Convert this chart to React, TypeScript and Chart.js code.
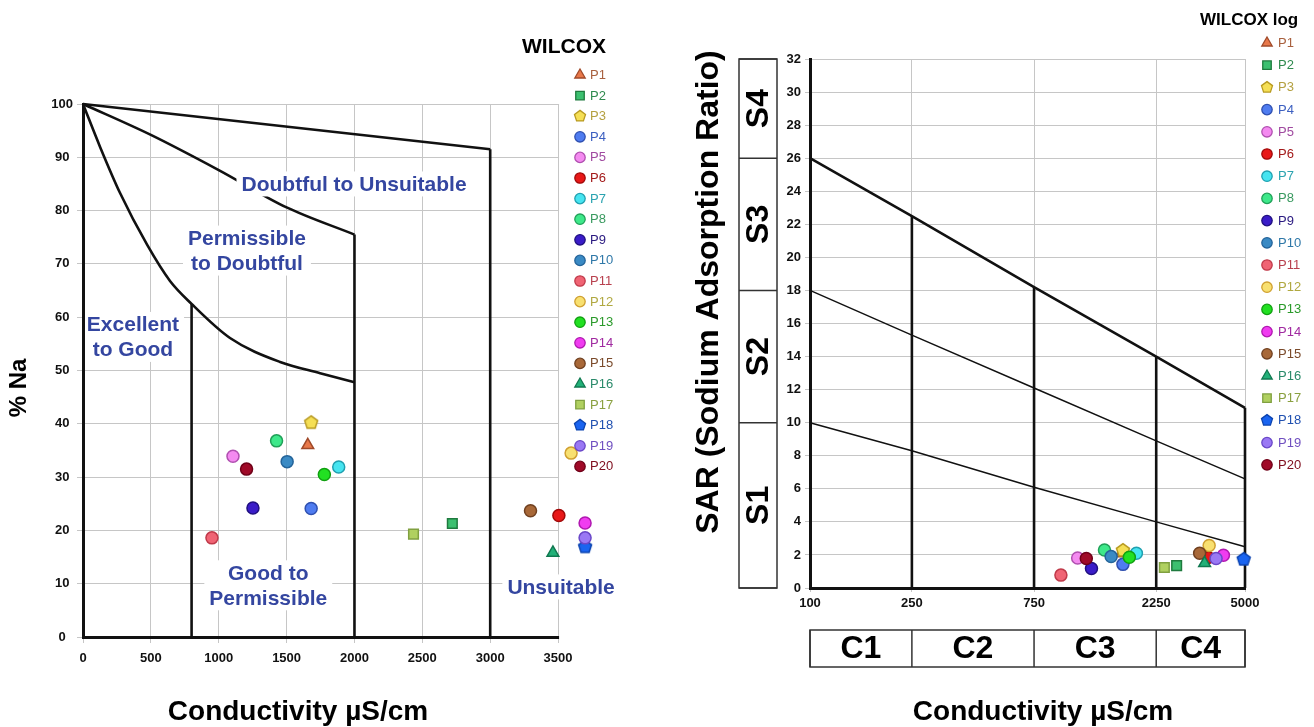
import React, { useEffect, useRef } from 'react';
import { Chart, registerables } from 'chart.js';

Chart.register(...registerables);

const FONT = "'Liberation Sans', Arial, Helvetica, sans-serif";

// ---------- Series (shared) ----------
const seriesNames = ['P1', 'P2', 'P3', 'P4', 'P5', 'P6', 'P7', 'P8', 'P9', 'P10', 'P11', 'P12', 'P13', 'P14', 'P15', 'P16', 'P17', 'P18', 'P19', 'P20'];
const markerStyles = ['triangle', 'rect', 'pentagon', 'circle', 'circle', 'circle', 'circle', 'circle', 'circle', 'circle', 'circle', 'circle', 'circle', 'circle', 'circle', 'triangle', 'rect', 'pentagon', 'circle', 'circle'];
const fillColors = ['#e8784a', '#3cc070', '#f5df55', '#4f7cf0', '#f48af0', '#e81818', '#46e4f0', '#3ee88a', '#3a1cc8', '#3a8ac4', '#f06474', '#f8e070', '#22e022', '#f03cf0', '#a86838', '#22b078', '#b0d060', '#1a64f0', '#9a78f4', '#a00a28'];
const borderColors = ['#a04a2a', '#1e7a3e', '#b89a20', '#2f50b0', '#b050b0', '#a00808', '#20a0b0', '#20a058', '#201080', '#24649a', '#c03a4a', '#d0a030', '#10a010', '#b018b0', '#704020', '#107850', '#80a040', '#0c44b0', '#6a48c8', '#700018'];
const legendTextColors = ['#a8603e', '#2f8a4e', '#b4a040', '#3c5fc0', '#a04aa0', '#a31a1a', '#2aa3b0', '#3a9a60', '#2a1a80', '#2f78a8', '#b8404e', '#b0a840', '#2a9a2a', '#a02aa0', '#7a4a2a', '#2a8a6a', '#8aa040', '#2050b0', '#7050c0', '#801020'];

// ---------- Left: WILCOX (linear) ----------
const condLinear = [1656, 2721, 1681, 1681, 1105, 3506, 1884, 1426, 1252, 1504, 950, 3596, 1778, 3699, 3297, 3462, 2435, 3699, 3699, 1205];
const naPercent = [36.0, 21.3, 40.3, 24.1, 33.9, 22.8, 31.9, 36.8, 24.2, 32.9, 18.6, 34.5, 30.5, 21.4, 23.7, 15.8, 19.3, 17.0, 18.6, 31.5];
const linearXTicks = [0, 500, 1000, 1500, 2000, 2500, 3000, 3500];
const naTicks = [0, 10, 20, 30, 40, 50, 60, 70, 80, 90, 100];

const topLineX = [0, 3000];
const topLineY = [100, 91.5];
const midCurveX = [0, 500, 1000, 1500, 2000];
const midCurveY = [100, 94.2, 87.6, 80.6, 75.5];
const lowCurveX = [0, 125, 273, 472, 641, 800, 1083, 1452, 1747, 2000];
const lowCurveY = [100, 92.0, 83.3, 73.6, 66.8, 62.5, 56.1, 51.6, 49.5, 47.8];
const verticalX = [800, 2000, 3000];
const verticalTop = [62.5, 75.5, 91.5];

const zoneLabelText = [['Doubtful to Unsuitable'], ['Permissible', 'to Doubtful'], ['Excellent', 'to Good'], ['Good to', 'Permissible'], ['Unsuitable']];
const zoneLabelX = [1997, 1208, 368, 1365, 3522];
const zoneLabelY = [85.0, 72.5, 56.3, 9.7, 9.4];

// ---------- Right: WILCOX log ----------
const condLog = [1650, 2704, 1668, 1668, 1110, 3590, 1883, 1413, 1257, 1500, 955, 3622, 1767, 4118, 3325, 3477, 2421, 4943, 3855, 1200];
const sarValues = [2.1, 1.35, 2.3, 1.43, 1.82, 1.84, 2.1, 2.3, 1.18, 1.9, 0.78, 2.57, 1.86, 1.98, 2.1, 1.5, 1.24, 1.76, 1.78, 1.78];

const logTicks = [100, 250, 750, 2250, 5000];
const s1Line = [10, 8.3, 6.1, 4.0, 2.5];
const s2Line = [18, 15.3, 12.1, 8.9, 6.6];
const s3Line = [26, 22.5, 18.2, 14.0, 10.9];
const sClassBounds = [0, 10, 18, 26, 32];
const sClassLabels = ['S1', 'S2', 'S3', 'S4'];
const cClassLabels = ['C1', 'C2', 'C3', 'C4'];

// ---------- helpers ----------
function markerPath(ctx: CanvasRenderingContext2D, style: string, x: number, y: number, r: number) {
  ctx.beginPath();
  if (style === 'circle') {
    ctx.arc(x, y, r, 0, Math.PI * 2);
  } else if (style === 'rect') {
    const s = r * Math.SQRT1_2;
    ctx.rect(x - s, y - s, 2 * s, 2 * s);
  } else {
    const n = style === 'triangle' ? 3 : 5;
    for (let k = 0; k < n; k++) {
      const a = (k * 2 * Math.PI) / n;
      const px = x + Math.sin(a) * r;
      const py = y - Math.cos(a) * r;
      if (k === 0) ctx.moveTo(px, py);
      else ctx.lineTo(px, py);
    }
  }
  ctx.closePath();
}

function drawMarker(ctx: CanvasRenderingContext2D, style: string, x: number, y: number, r: number, fill: string, stroke: string, lw: number) {
  ctx.save();
  markerPath(ctx, style, x, y, r);
  ctx.fillStyle = fill;
  ctx.fill();
  ctx.lineWidth = lw;
  ctx.strokeStyle = stroke;
  ctx.stroke();
  ctx.restore();
}

function pentagonCanvas(fill: string, stroke: string, r: number) {
  const size = Math.ceil(2 * r + 4);
  const c = document.createElement('canvas');
  c.width = size;
  c.height = size;
  const ctx = c.getContext('2d')!;
  drawMarker(ctx, 'pentagon', size / 2, size / 2 + 0.5, r, fill, stroke, 1.5);
  return c;
}

function pointDatasets(xs: number[], ys: number[], radius: number) {
  return seriesNames.map((name, i) => {
    const st = markerStyles[i];
    const r = st === 'circle' ? radius : radius + 0.8;
    return {
      type: 'scatter' as const,
      label: name,
      data: [{ x: xs[i], y: ys[i] }],
      pointStyle: st === 'pentagon' ? pentagonCanvas(fillColors[i], borderColors[i], r) : st,
      pointRadius: r,
      pointHoverRadius: r,
      pointBackgroundColor: fillColors[i],
      pointBorderColor: borderColors[i],
      pointBorderWidth: 1.5,
      showLine: false,
      clip: false as any,
      order: 20 - i,
    };
  });
}

function lineDataset(xs: number[], ys: number[], width: number, curved = false) {
  return {
    type: 'line' as const,
    label: '',
    data: xs.map((x, k) => ({ x, y: ys[k] })),
    borderColor: '#111',
    borderWidth: width,
    pointRadius: 0,
    pointHoverRadius: 0,
    fill: false,
    tension: 0,
    cubicInterpolationMode: curved ? ('monotone' as const) : ('default' as const),
    order: 100,
    clip: 4 as any,
  };
}

function drawLegend(ctx: CanvasRenderingContext2D, mx: number, tx: number, y0: number, dy: number, fontSize: number) {
  ctx.save();
  ctx.font = `${fontSize}px ${FONT}`;
  ctx.textAlign = 'left';
  ctx.textBaseline = 'middle';
  seriesNames.forEach((name, i) => {
    const y = y0 + i * dy;
    const st = markerStyles[i];
    const r = st === 'circle' ? 5.2 : st === 'pentagon' ? 5.8 : 6;
    drawMarker(ctx, st, mx, y, r, fillColors[i], borderColors[i], 1.3);
    ctx.fillStyle = legendTextColors[i];
    ctx.fillText(name, tx, y + 0.5);
  });
  ctx.restore();
}

function rotatedText(ctx: CanvasRenderingContext2D, text: string, x: number, y: number, font: string) {
  ctx.save();
  ctx.translate(x, y);
  ctx.rotate(-Math.PI / 2);
  ctx.font = font;
  ctx.textAlign = 'center';
  ctx.textBaseline = 'middle';
  ctx.fillStyle = '#000';
  ctx.fillText(text, 0, 0);
  ctx.restore();
}

const tickFont = { family: FONT, size: 13, weight: 'bold' as const };
const GRID = '#c6c6c6';

// ---------- Left chart ----------
const leftPlugin = {
  id: 'wilcoxLeftExtras',
  beforeDatasetsDraw(chart: any) {
    // the grid frame ends at the last tick (3500); points may still lie beyond it
    const { ctx, chartArea, scales } = chart;
    const xEnd = scales.x.getPixelForValue(linearXTicks[linearXTicks.length - 1]);
    ctx.save();
    ctx.fillStyle = '#fff';
    ctx.fillRect(xEnd + 1, chartArea.top - 3, chartArea.right - xEnd + 4, chartArea.bottom - chartArea.top + 6);
    ctx.restore();
  },
  afterDatasetsDraw(chart: any) {
    const { ctx, chartArea, scales } = chart;
    const xs = scales.x;
    const ys = scales.y;
    ctx.save();
    ctx.beginPath();
    ctx.rect(chartArea.left + 2, chartArea.top, chartArea.right - chartArea.left + 60, chartArea.bottom - chartArea.top - 2);
    ctx.clip();
    ctx.font = `bold 21px ${FONT}`;
    ctx.textAlign = 'center';
    ctx.textBaseline = 'middle';
    const lineH = 25;
    zoneLabelText.forEach((lines, k) => {
      const cx = xs.getPixelForValue(zoneLabelX[k]);
      const cy = ys.getPixelForValue(zoneLabelY[k]);
      const w = Math.max(...lines.map((l) => ctx.measureText(l).width));
      const h = lines.length * lineH;
      ctx.fillStyle = '#fff';
      ctx.fillRect(cx - w / 2 - 5, cy - h / 2, w + 10, h);
      ctx.fillStyle = '#3446a0';
      lines.forEach((l, j) => {
        ctx.fillText(l, cx, cy + (j - (lines.length - 1) / 2) * lineH + 1);
      });
    });
    ctx.restore();
  },
  afterDraw(chart: any) {
    const { ctx } = chart;
    ctx.save();
    ctx.fillStyle = '#000';
    ctx.font = `bold 21px ${FONT}`;
    ctx.textAlign = 'left';
    ctx.textBaseline = 'alphabetic';
    ctx.fillText('WILCOX', 522, 53);
    ctx.font = `bold 28px ${FONT}`;
    ctx.textAlign = 'center';
    ctx.fillText('Conductivity µS/cm', 298, 720);
    ctx.restore();
    rotatedText(ctx, '% Na', 19, 388, `bold 24px ${FONT}`);
    drawLegend(ctx, 580, 590, 75, 20.6, 13);
  },
};

// ---------- Right chart ----------
const OFF = 650;
const rightPlugin = {
  id: 'wilcoxRightExtras',
  afterDraw(chart: any) {
    const { ctx, scales } = chart;
    const xs = scales.x;
    const ys = scales.y;
    ctx.save();
    // S class boxes
    const bx0 = 739 - OFF;
    const bx1 = 777 - OFF;
    ctx.strokeStyle = '#333';
    ctx.lineWidth = 1.5;
    ctx.strokeRect(bx0, ys.getPixelForValue(32), bx1 - bx0, ys.getPixelForValue(0) - ys.getPixelForValue(32));
    sClassBounds.forEach((b) => {
      const py = ys.getPixelForValue(b);
      ctx.beginPath();
      ctx.moveTo(bx0, py);
      ctx.lineTo(bx1, py);
      ctx.stroke();
    });
    sClassLabels.forEach((lab, k) => {
      const cy = (ys.getPixelForValue(sClassBounds[k]) + ys.getPixelForValue(sClassBounds[k + 1])) / 2;
      rotatedText(ctx, lab, (bx0 + bx1) / 2 + 1, cy, `bold 32px ${FONT}`);
    });
    // C class boxes
    const cy0 = 630;
    const cy1 = 667;
    ctx.strokeStyle = '#333';
    ctx.lineWidth = 1.5;
    const xl = xs.getPixelForValue(logTicks[0]);
    const xr = xs.getPixelForValue(logTicks[logTicks.length - 1]);
    ctx.strokeRect(xl, cy0, xr - xl, cy1 - cy0);
    logTicks.forEach((t) => {
      const px = xs.getPixelForValue(t);
      ctx.beginPath();
      ctx.moveTo(px, cy0);
      ctx.lineTo(px, cy1);
      ctx.stroke();
    });
    ctx.fillStyle = '#000';
    ctx.font = `bold 32px ${FONT}`;
    ctx.textAlign = 'center';
    ctx.textBaseline = 'middle';
    cClassLabels.forEach((lab, k) => {
      const cx = (xs.getPixelForValue(logTicks[k]) + xs.getPixelForValue(logTicks[k + 1])) / 2;
      ctx.fillText(lab, cx, (cy0 + cy1) / 2 + 1);
    });
    // titles
    ctx.textBaseline = 'alphabetic';
    ctx.font = `bold 28px ${FONT}`;
    ctx.fillText('Conductivity µS/cm', 1043 - OFF, 720);
    ctx.font = `bold 17px ${FONT}`;
    ctx.textAlign = 'left';
    ctx.fillText('WILCOX log', 1200 - OFF, 25);
    ctx.restore();
    rotatedText(ctx, 'SAR (Sodium Adsorption Ratio)', 709 - OFF, 292, `bold 32px ${FONT}`);
    drawLegend(ctx, 1267 - OFF, 1278 - OFF, 43, 22.2, 13);
  },
};

export default function App() {
  const leftRef = useRef<HTMLCanvasElement | null>(null);
  const rightRef = useRef<HTMLCanvasElement | null>(null);

  useEffect(() => {
    Chart.defaults.font.family = FONT;

    const leftDatasets: any[] = [
      ...pointDatasets(condLinear, naPercent, 6),
      lineDataset(topLineX, topLineY, 2.6),
      lineDataset(midCurveX, midCurveY, 2.6, true),
      lineDataset(lowCurveX, lowCurveY, 2.6, true),
      ...verticalX.map((vx, k) => lineDataset([vx, vx], [verticalTop[k], 0], 2.6)),
    ];

    const left = new Chart(leftRef.current!, {
      type: 'scatter',
      data: { datasets: leftDatasets },
      options: {
        responsive: false,
        maintainAspectRatio: false,
        animation: false,
        devicePixelRatio: 1,
        events: [],
        layout: { padding: { left: 43, right: 58, top: 104, bottom: 50 } },
        plugins: { legend: { display: false }, tooltip: { enabled: false }, title: { display: false } },
        scales: {
          x: {
            type: 'linear',
            min: 0,
            max: 3750,
            afterBuildTicks: (axis: any) => { axis.ticks = linearXTicks.map((v) => ({ value: v })); },
            ticks: { font: tickFont, color: '#111', padding: 8, maxRotation: 0, autoSkip: false, callback: (v: any) => String(v) },
            grid: { color: GRID, lineWidth: 1, tickLength: 6 },
            border: { color: '#111', width: 3 },
            afterFit: (s: any) => { s.height = 40; },
          },
          y: {
            type: 'linear',
            min: 0,
            max: 100,
            afterBuildTicks: (axis: any) => { axis.ticks = naTicks.map((v) => ({ value: v })); },
            ticks: { font: tickFont, color: '#111', padding: 4, crossAlign: 'center', callback: (v: any) => String(v) },
            grid: { color: GRID, lineWidth: 1, tickLength: 6 },
            border: { color: '#111', width: 3 },
            afterFit: (s: any) => { s.width = 40; },
          },
        },
      },
      plugins: [leftPlugin],
    } as any);

    const rightDatasets: any[] = [
      ...pointDatasets(condLog, sarValues, 6),
      lineDataset(logTicks, s1Line, 1.5),
      lineDataset(logTicks, s2Line, 1.5),
      lineDataset(logTicks, s3Line, 2.6),
      ...logTicks.slice(1).map((t, k) => lineDataset([t, t], [s3Line[k + 1], 0], 2.6)),
    ];

    const right = new Chart(rightRef.current!, {
      type: 'scatter',
      data: { datasets: rightDatasets },
      options: {
        responsive: false,
        maintainAspectRatio: false,
        animation: false,
        devicePixelRatio: 1,
        events: [],
        layout: { padding: { left: 120, right: 69, top: 59, bottom: 109 } },
        plugins: { legend: { display: false }, tooltip: { enabled: false }, title: { display: false } },
        scales: {
          x: {
            type: 'logarithmic',
            min: 100,
            max: 5000,
            afterBuildTicks: (axis: any) => { axis.ticks = logTicks.map((v) => ({ value: v })); },
            ticks: { font: tickFont, color: '#111', padding: 4, maxRotation: 0, autoSkip: false, callback: (v: any) => String(v) },
            grid: { color: GRID, lineWidth: 1, tickLength: 4 },
            border: { color: '#111', width: 3 },
            afterFit: (s: any) => { s.height = 30; },
          },
          y: {
            type: 'linear',
            min: 0,
            max: 32,
            ticks: { stepSize: 2, font: tickFont, color: '#111', padding: 4, callback: (v: any) => String(v) },
            grid: { color: GRID, lineWidth: 1, tickLength: 5 },
            border: { color: '#111', width: 3 },
            afterFit: (s: any) => { s.width = 40; },
          },
        },
      },
      plugins: [rightPlugin],
    } as any);

    return () => {
      left.destroy();
      right.destroy();
    };
  }, []);

  return (
    <div style={{ position: 'absolute', left: 0, top: 0, width: 1314, height: 727, background: '#fff' }}>
      <canvas ref={leftRef} width={650} height={727} style={{ position: 'absolute', left: 0, top: 0 }} />
      <canvas ref={rightRef} width={664} height={727} style={{ position: 'absolute', left: OFF, top: 0 }} />
    </div>
  );
}
